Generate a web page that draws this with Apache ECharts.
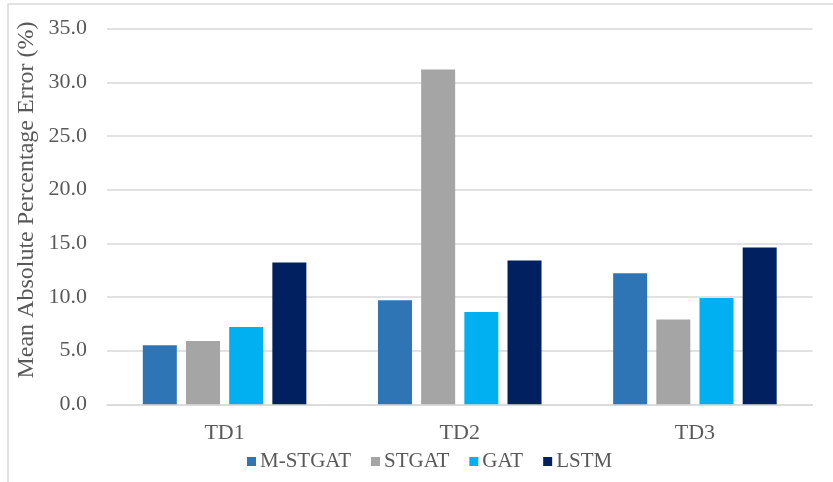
<!DOCTYPE html>
<html>
<head>
<meta charset="utf-8">
<script src="https://cdn.jsdelivr.net/npm/echarts@6/dist/echarts.min.js"></script>
<style>
  html, body { margin: 0; padding: 0; background: #ffffff; }
  #chart { width: 833px; height: 482px; }
</style>
</head>
<body>
<div id="chart"></div>
<script>
// Mean absolute percentage error per test dataset and model
const categories = ['TD1', 'TD2', 'TD3'];
const seriesNames = ['M-STGAT', 'STGAT', 'GAT', 'LSTM'];
const mStgat = [5.5, 9.7, 12.2];
const stgat = [5.9, 31.2, 7.9];
const gat = [7.2, 8.6, 9.9];
const lstm = [13.2, 13.4, 14.6];
const yTicks = { min: 0, max: 35, step: 5 };

const colors = ['#2E75B6', '#A5A5A5', '#00B0F0', '#002060'];
const values = [mStgat, stgat, gat, lstm];
const font = '"Liberation Serif", "Times New Roman", serif';
const textColor = '#595959';

const chart = echarts.init(document.getElementById('chart'), null, { renderer: 'canvas' });

chart.setOption({
  animation: false,
  backgroundColor: '#ffffff',
  color: colors,
  grid: { left: 107, right: 20.5, top: 28.6, bottom: 77.7 },
  legend: {
    data: seriesNames,
    left: 242,
    top: 446,
    icon: 'rect',
    itemWidth: 9,
    itemHeight: 9,
    itemGap: 20,
    textStyle: { fontFamily: font, fontSize: 21, color: textColor, padding: [0, 0, 0, -1] }
  },
  xAxis: {
    type: 'category',
    data: categories,
    axisLine: { show: true, lineStyle: { color: '#d9d9d9', width: 1.5 } },
    axisTick: { show: false },
    axisLabel: { fontFamily: font, fontSize: 22, color: textColor, margin: 18 }
  },
  yAxis: {
    type: 'value',
    min: yTicks.min,
    max: yTicks.max,
    interval: yTicks.step,
    axisLine: { show: false },
    axisTick: { show: false },
    splitLine: { lineStyle: { color: '#d9d9d9', width: 1.5 } },
    axisLabel: {
      fontFamily: font, fontSize: 22, color: textColor, margin: 20,
      formatter: v => v.toFixed(1)
    }
  },
  graphic: [
    {
      type: 'rect',
      shape: { x: 8, y: 4, width: 900, height: 600 },
      style: { fill: 'none', stroke: '#d9d9d9', lineWidth: 1.5 },
      silent: true
    },
    {
      type: 'text',
      x: 27,
      y: 200,
      rotation: Math.PI / 2,
      style: {
        text: 'Mean Absolute Percentage Error (%)',
        fontFamily: font,
        fontSize: 24,
        fill: textColor,
        align: 'center',
        verticalAlign: 'middle'
      }
    }
  ],
  series: seriesNames.map((name, i) => ({
    name: name,
    type: 'bar',
    data: values[i],
    barWidth: 34,
    barGap: '27%',
    itemStyle: { color: colors[i] }
  }))
});
</script>
</body>
</html>
